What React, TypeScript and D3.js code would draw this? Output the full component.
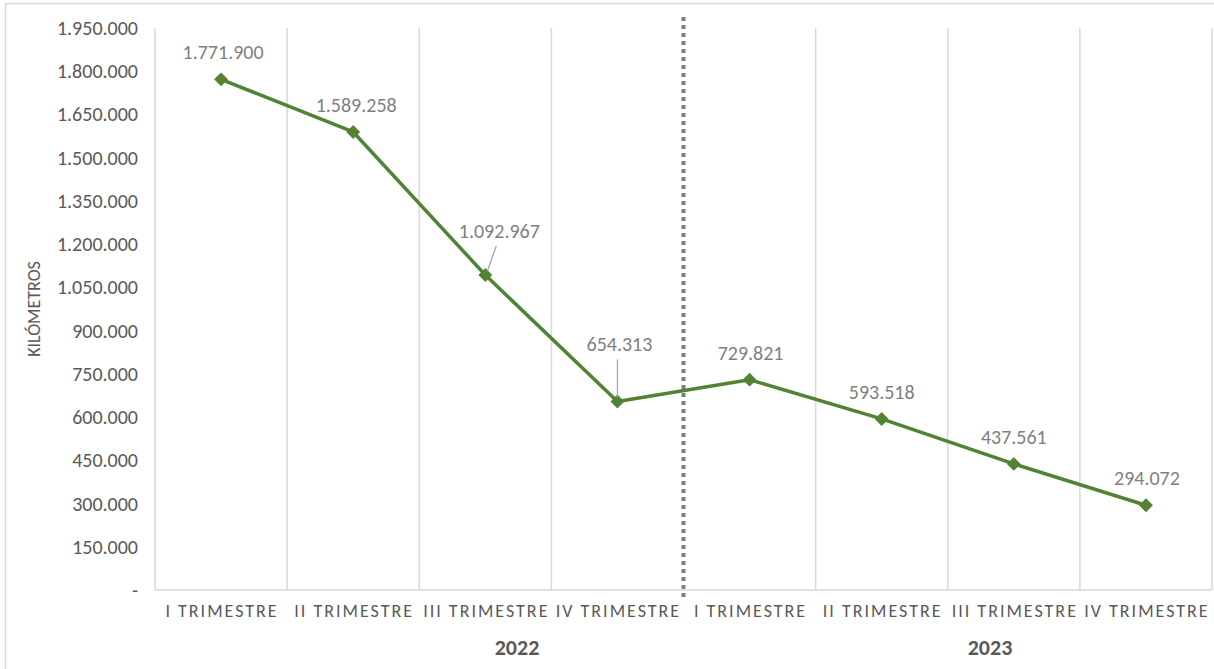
import React from "react";
import * as d3 from "d3";

const categories = ["I TRIMESTRE", "II TRIMESTRE", "III TRIMESTRE", "IV TRIMESTRE", "I TRIMESTRE", "II TRIMESTRE", "III TRIMESTRE", "IV TRIMESTRE"];
const years = ["2022", "2023"];
const values = [1771900, 1589258, 1092967, 654313, 729821, 593518, 437561, 294072];
const yTicks = [0, 150000, 300000, 450000, 600000, 750000, 900000, 1050000, 1200000, 1350000, 1500000, 1650000, 1800000, 1950000];

// label placement offsets (dx, dy from point) and whether a leader line is drawn
const labelOffsets: [number, number, boolean][] = [
  [2, -27, false],
  [3, -27, false],
  [14, -44, true],
  [2, -57, true],
  [1, -27, false],
  [0, -27, false],
  [0, -27, false],
  [1, -27, false],
];

const W = 1214;
const H = 669;
const left = 155;
const right = 1212;
const top = 28;
const bottom = 590;
const FONT = "Carlito, Calibri, Lato, 'Open Sans', sans-serif";
const GREEN = "#548235";
const TEXT = "#595959";

const fmt = (v: number) => {
  const s = Math.round(v).toString();
  return s.replace(/\B(?=(\d{3})+(?!\d))/g, ".");
};

export default function App() {
  const x = d3.scaleBand<number>().domain(d3.range(categories.length)).range([left, right]).paddingInner(0).paddingOuter(0);
  const y = d3.scaleLinear().domain([0, 1950000]).range([bottom, top]);
  const cx = (i: number) => (x(i) as number) + x.bandwidth() / 2;
  const line = d3.line<number>().x((_, i) => cx(i)).y((d) => y(d));
  const marker = d3.symbol().type(d3.symbolSquare).size(78)();
  const half = categories.length / 2;
  const yearCenters = [517, 990];
  const sepX = x(half) as number;

  return (
    <svg width={W} height={H} style={{ position: "absolute", left: 0, top: 0, background: "#fff" }}>
      <rect x={5.5} y={3.5} width={1230} height={700} fill="#fff" stroke="#d9d9d9" strokeWidth={1.5} />
      {d3.range(categories.length + 1).map((i) => {
        const gx = i < categories.length ? (x(i) as number) : right;
        if (i === half) return null;
        return <line key={i} x1={gx} x2={gx} y1={top} y2={bottom} stroke="#d9d9d9" strokeWidth={1.5} />;
      })}
      <line x1={left} x2={right} y1={bottom} y2={bottom} stroke="#d9d9d9" strokeWidth={1.5} />
      {yTicks.map((t) => (
        <text key={t} x={138} y={y(t)} dy="0.35em" textAnchor="end" fontFamily={FONT} fontSize={20} fill={TEXT}>
          {t === 0 ? "-" : fmt(t)}
        </text>
      ))}
      <text transform={`translate(40,${(top + bottom) / 2}) rotate(-90)`} textAnchor="middle" fontFamily={FONT} fontSize={18} fill={TEXT}>
        KILÓMETROS
      </text>
      {categories.map((c, i) => (
        <text key={i} x={cx(i) + 1} y={611} dy="0.35em" textAnchor="middle" fontFamily={FONT} fontSize={18} letterSpacing={2} fill={TEXT}>
          {c}
        </text>
      ))}
      {years.map((yr, i) => (
        <text key={yr} x={yearCenters[i]} y={647} dy="0.35em" textAnchor="middle" fontFamily={FONT} fontSize={22} fontWeight="bold" fill={TEXT}>
          {yr}
        </text>
      ))}
      <line x1={sepX} x2={sepX} y1={17} y2={600} stroke="#7f7f7f" strokeWidth={4} strokeDasharray="4 4" />
      <path d={line(values) as string} fill="none" stroke={GREEN} strokeWidth={3.5} strokeLinejoin="round" />
      {values.map((v, i) => (
        <path key={i} d={marker as string} transform={`translate(${cx(i)},${y(v)}) rotate(45)`} fill={GREEN} stroke={GREEN} strokeWidth={1} />
      ))}
      {values.map((v, i) => {
        const [dx, dy, leader] = labelOffsets[i];
        const px = cx(i);
        const py = y(v);
        const lx = px + dx;
        const ly = py + dy;
        return (
          <g key={i}>
            {leader && (
              <line x1={i === 2 ? lx - 3 : px} y1={ly + 15} x2={px + (i === 2 ? 2 : 0)} y2={py - 4} stroke="#a6a6a6" strokeWidth={1.3} />
            )}
            <text x={lx} y={ly} dy="0.35em" textAnchor="middle" fontFamily={FONT} fontSize={20} fill="#7f7f7f">
              {fmt(v)}
            </text>
          </g>
        );
      })}
    </svg>
  );
}
